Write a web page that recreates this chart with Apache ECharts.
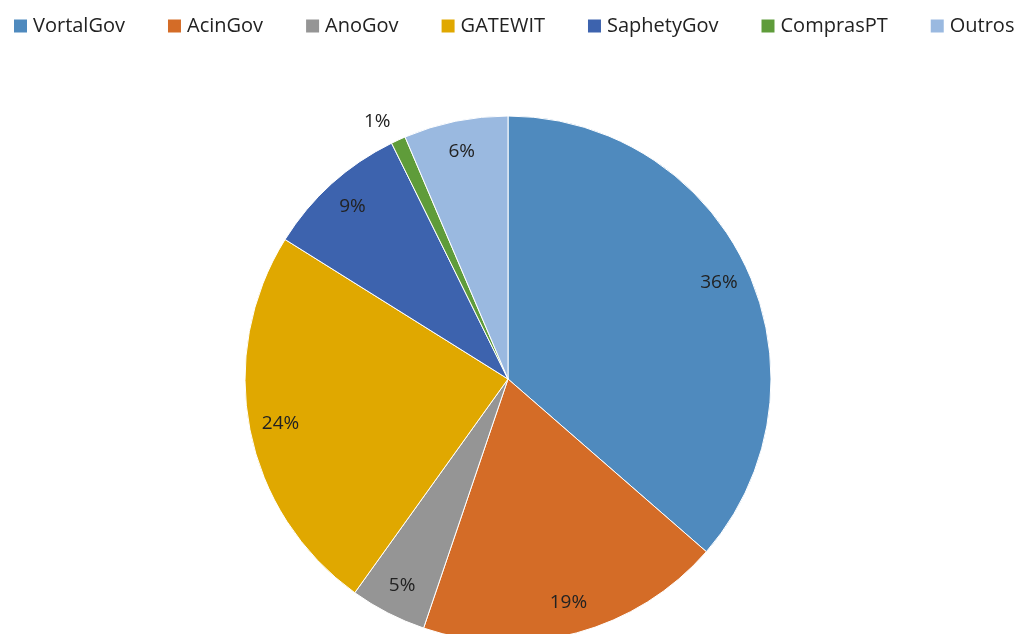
<!DOCTYPE html>
<html>
<head>
<meta charset="utf-8">
<script src="https://cdn.jsdelivr.net/npm/echarts@6/dist/echarts.min.js"></script>
<style>html,body{margin:0;padding:0;background:#fff;}#c{width:1017px;height:634px;}</style>
</head>
<body>
<div id="c"></div>
<script>
const categories = ['VortalGov', 'AcinGov', 'AnoGov', 'GATEWIT', 'SaphetyGov', 'ComprasPT', 'Outros'];
const values = [36.4, 18.8, 4.7, 24.0, 8.8, 0.9, 6.4];
const colors = ['#4F8ABE', '#D46C27', '#959595', '#E0A800', '#3D63AE', '#5F9C3A', '#9AB9E0'];

const FONT = '"Open Sans", "Noto Sans", sans-serif';
const CX = 508, CY = 379, R = 263;
const total = values.reduce((a, b) => a + b, 0);
const pctLabel = v => Math.round(v / total * 100) + '%';

const baseData = categories.map((n, i) => ({ name: n, value: values[i], itemStyle: { color: colors[i] } }));

const chart = echarts.init(document.getElementById('c'), null, { renderer: 'canvas' });
chart.setOption({
  animation: false,
  color: colors,
  legend: {
    top: 16,
    left: 12,
    width: 1005,
    padding: 0,
    itemWidth: 15,
    itemHeight: 15,
    itemGap: 41,
    icon: 'rect',
    textStyle: { fontFamily: FONT, fontSize: 20, color: '#222' },
    data: categories
  },
  series: [
    {
      type: 'pie',
      center: [CX, CY],
      radius: [0, R],
      startAngle: 90,
      clockwise: true,
      silent: true,
      label: { show: false },
      labelLine: { show: false },
      itemStyle: { borderColor: '#fff', borderWidth: 1 },
      data: baseData
    },
    {
      type: 'pie',
      center: [CX, CY],
      radius: [R * 0.74, R],
      startAngle: 90,
      clockwise: true,
      silent: true,
      legendHoverLink: false,
      itemStyle: { color: 'rgba(0,0,0,0)', borderWidth: 0 },
      label: {
        show: true, position: 'inside', fontFamily: FONT, fontSize: 19, color: '#222',
        formatter: p => p.dataIndex === 5 ? '' : pctLabel(p.value)
      },
      labelLine: { show: false },
      data: categories.map((n, i) => ({ name: n + ' ', value: values[i] }))
    },
    {
      type: 'pie',
      center: [CX, CY],
      radius: [R + 10, R + 42],
      startAngle: 90,
      clockwise: true,
      silent: true,
      legendHoverLink: false,
      itemStyle: { color: 'rgba(0,0,0,0)', borderWidth: 0 },
      label: {
        show: true, position: 'inside', fontFamily: FONT, fontSize: 19, color: '#222',
        offset: [-9, 8],
        formatter: p => p.dataIndex === 5 ? pctLabel(p.value) : ''
      },
      labelLine: { show: false },
      data: categories.map((n, i) => ({ name: n + '  ', value: values[i] }))
    }
  ]
});
</script>
</body>
</html>
